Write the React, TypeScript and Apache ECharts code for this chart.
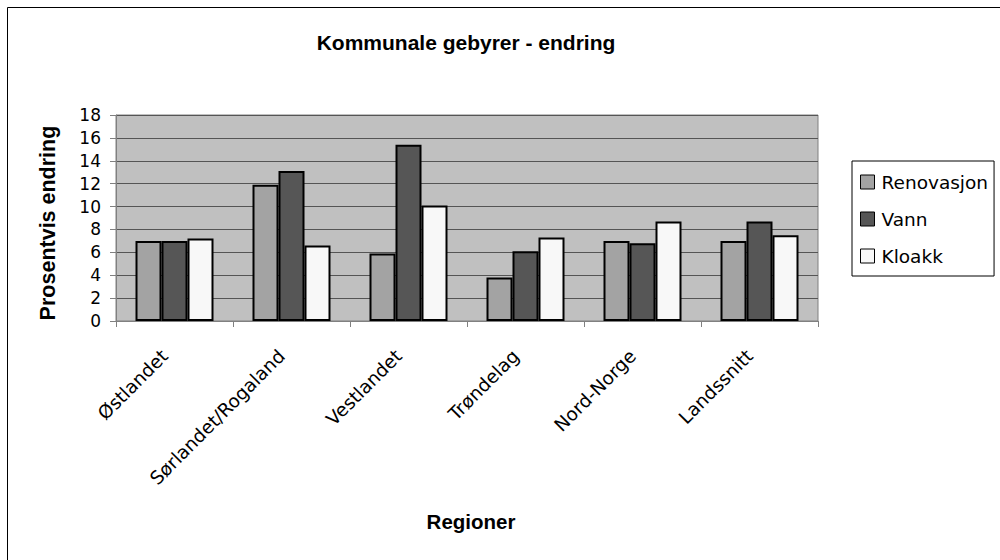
import React, { useEffect, useRef } from "react";
import * as echarts from "echarts";

const categories = ["Østlandet", "Sørlandet/Rogaland", "Vestlandet", "Trøndelag", "Nord-Norge", "Landssnitt"];
const renovasjon = [7.0, 11.9, 5.9, 3.8, 7.0, 7.0];
const vann = [7.0, 13.1, 15.4, 6.1, 6.8, 8.7];
const kloakk = [7.2, 6.6, 10.1, 7.3, 8.7, 7.5];
const seriesNames = ["Renovasjon", "Vann", "Kloakk"];
const seriesColors = ["#a3a3a3", "#565656", "#f8f8f8"];

const FONT = "'Liberation Sans', Arial, sans-serif";
const WIDE = "'DejaVu Sans', Verdana, sans-serif";

export default function App() {
  const ref = useRef<HTMLDivElement>(null);
  useEffect(() => {
    if (!ref.current) return;
    const chart = echarts.init(ref.current, null, { renderer: "svg" });
    const data = [renovasjon, vann, kloakk];
    chart.setOption({
      animation: false,
      backgroundColor: "#ffffff",
      textStyle: { fontFamily: FONT },
      grid: {
        left: 116,
        right: 182,
        top: 115,
        bottom: 239,
        show: true,
        backgroundColor: "#c0c0c0",
        borderColor: "#808080",
        borderWidth: 1,
      },
      legend: {
        orient: "vertical",
        left: 852,
        top: 161,
        data: seriesNames,
        itemWidth: 14,
        itemHeight: 14,
        itemGap: 17,
        padding: [11, 6, 10, 8],
        borderColor: "#000",
        borderWidth: 1,
        borderRadius: 0,
        backgroundColor: "#fff",
        icon: "rect",
        itemStyle: { borderColor: "#000", borderWidth: 1 },
        textStyle: { fontFamily: WIDE, fontSize: 18.5, color: "#000", lineHeight: 20, padding: [0, 0, 0, 2] },
      },
      xAxis: {
        type: "category",
        data: categories,
        axisLine: { show: true, lineStyle: { color: "#808080", width: 1 } },
        axisTick: { show: true, length: 6, lineStyle: { color: "#808080" } },
        axisLabel: {
          rotate: 45,
          fontSize: 18.5,
          color: "#000",
          margin: 22,
          padding: [0, 14, 0, 0],
          fontFamily: WIDE,
        },
      },
      yAxis: {
        type: "value",
        min: 0,
        max: 18,
        interval: 2,
        axisLine: { show: true, lineStyle: { color: "#808080", width: 1 } },
        axisTick: { show: true, length: 6, lineStyle: { color: "#808080" } },
        axisLabel: { fontSize: 17, color: "#000", margin: 15, fontFamily: WIDE },
        splitLine: { show: true, lineStyle: { color: "#555555", width: 1 } },
      },
      series: seriesNames.map((name, i) => ({
        name,
        type: "bar",
        data: data[i],
        barWidth: 26,
        barGap: "0%",
        itemStyle: { color: seriesColors[i], borderColor: "#000", borderWidth: 2 },
      })),
      graphic: [
        {
          type: "rect",
          silent: true,
          z: -10,
          shape: { x: 7.5, y: 7.5, width: 1100, height: 700 },
          style: { fill: "none", stroke: "#000", lineWidth: 1 },
        },
        {
          type: "text",
          x: 466,
          y: 42,
          style: {
            text: "Kommunale gebyrer - endring",
            font: `bold 21px ${FONT}`,
            fill: "#000",
            textAlign: "center",
            textVerticalAlign: "middle",
          },
        },
        {
          type: "text",
          x: 471,
          y: 521,
          style: {
            text: "Regioner",
            font: `bold 20.5px ${FONT}`,
            fill: "#000",
            textAlign: "center",
            textVerticalAlign: "middle",
          },
        },
        {
          type: "text",
          x: 48,
          y: 223,
          rotation: Math.PI / 2,
          style: {
            text: "Prosentvis endring",
            font: `bold 21.5px ${FONT}`,
            fill: "#000",
            textAlign: "center",
            textVerticalAlign: "middle",
          },
        },
      ],
    });
    return () => chart.dispose();
  }, []);
  return (
    <div
      ref={ref}
      style={{ position: "absolute", left: 0, top: 0, width: 1000, height: 560 }}
    />
  );
}
